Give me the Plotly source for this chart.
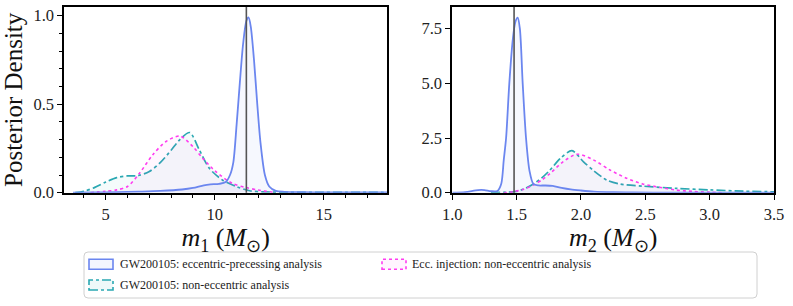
import plotly.graph_objects as go

# ---------------- data ----------------
# m1 panel
m1_ecc_x = [3.5, 4.5, 5.5, 6.5, 7.5, 8.5, 9.0, 9.5, 9.8, 10.2, 10.5, 10.7, 10.85, 11.0, 11.15,
            11.3, 11.45, 11.55, 11.65, 11.8, 11.95, 12.1, 12.3, 12.5, 12.8, 13.2, 14.0, 15.0, 16.0, 17.0, 17.9]
m1_ecc_y = [0.0, 0.001, 0.003, 0.006, 0.01, 0.018, 0.027, 0.042, 0.047, 0.05, 0.06, 0.1, 0.17, 0.38, 0.62,
            0.84, 0.97, 0.99, 0.94, 0.75, 0.5, 0.28, 0.1, 0.035, 0.01, 0.005, 0.003, 0.002, 0.002, 0.002, 0.001]

m1_non_x = [3.6, 4.0, 4.5, 5.0, 5.5, 6.0, 6.5, 7.0, 7.5, 8.0, 8.4, 8.85, 9.3, 9.75, 10.35, 11.0, 11.6, 12.2, 13.0, 14.0, 15.0, 16.0, 17.0, 17.9]
m1_non_y = [0.0, 0.008, 0.03, 0.06, 0.085, 0.095, 0.097, 0.12, 0.17, 0.24, 0.30, 0.34, 0.24, 0.138, 0.072, 0.034, 0.011, 0.005, 0.003, 0.002, 0.002, 0.002, 0.002, 0.001]

m1_inj_x = [4.3, 5.0, 5.5, 6.0, 6.55, 7.15, 7.75, 8.4, 9.0, 9.45, 10.05, 10.8, 11.4, 12.0, 12.8]
m1_inj_y = [0.0, 0.008, 0.016, 0.035, 0.11, 0.213, 0.288, 0.32, 0.26, 0.194, 0.119, 0.053, 0.03, 0.015, 0.0]

# m2 panel
m2_ecc_x = [1.0, 1.1, 1.2, 1.25, 1.3, 1.35, 1.38, 1.4, 1.418, 1.443, 1.47, 1.49, 1.508, 1.525, 1.547,
            1.573, 1.6, 1.63, 1.67, 1.72, 1.78, 1.85, 1.92, 2.0, 2.1, 2.25, 2.4, 2.7, 3.0, 3.5]
m2_ecc_y = [0.0, 0.03, 0.12, 0.12, 0.07, 0.08, 0.4, 1.5, 2.5, 5.0, 7.0, 7.8, 8.0, 7.5, 5.0,
            2.5, 1.0, 0.4, 0.33, 0.33, 0.31, 0.22, 0.15, 0.1, 0.05, 0.02, 0.01, 0.005, 0.002, 0.0]

m2_non_x = [1.3, 1.4, 1.49, 1.56, 1.63, 1.7, 1.76, 1.84, 1.93, 2.02, 2.1, 2.2, 2.3, 2.48, 2.74, 3.0, 3.26, 3.5]
m2_non_y = [0.0, 0.02, 0.05, 0.18, 0.4, 0.7, 1.04, 1.57, 1.92, 1.41, 1.0, 0.58, 0.4, 0.3, 0.2, 0.13, 0.07, 0.04]

m2_inj_x = [1.4, 1.47, 1.55, 1.63, 1.7, 1.76, 1.86, 1.97, 2.1, 2.225, 2.355, 2.48, 2.61, 2.74, 2.87, 3.0, 3.1]
m2_inj_y = [0.0, 0.04, 0.15, 0.35, 0.6, 0.88, 1.41, 1.76, 1.49, 1.04, 0.66, 0.4, 0.25, 0.12, 0.06, 0.02, 0.0]

injected_m1 = 11.45
injected_m2 = 1.48

names = ["GW200105: eccentric-precessing analysis",
         "GW200105: non-eccentric analysis",
         "Ecc. injection: non-eccentric analysis"]

# ---------------- styles ----------------
C_ECC = "#6b86ef"
C_NON = "#2aa8b2"
C_INJ = "#ff3cf0"
F_ECC = "rgba(107,134,239,0.06)"
F_NON = "rgba(42,168,178,0.05)"
F_INJ = "rgba(255,60,240,0.04)"
FONT = "Liberation Serif"

W, H = 793, 306
L1, R1 = 64.3, 387.0
L2, R2 = 452.3, 774.0
T, B = 7.0, 192.7

def px(x):
    return x / W

def py(y):
    return 1 - y / H

fig = go.Figure()

def add(xs, ys, color, fill, dash, width, axis):
    xa, ya = ("x", "y") if axis == 1 else ("x2", "y2")
    fig.add_trace(go.Scatter(
        x=xs, y=ys, mode="lines", xaxis=xa, yaxis=ya,
        line=dict(color=color, dash=dash, width=width, shape="spline", smoothing=0.8),
        fill="tozeroy", fillcolor=fill, showlegend=False, hoverinfo="skip"))

add(m1_non_x, m1_non_y, C_NON, F_NON, "dashdot", 1.7, 1)
add(m1_inj_x, m1_inj_y, C_INJ, F_INJ, "dot", 1.6, 1)
add(m1_ecc_x, m1_ecc_y, C_ECC, F_ECC, "solid", 1.8, 1)
add(m2_non_x, m2_non_y, C_NON, F_NON, "dashdot", 1.7, 2)
add(m2_inj_x, m2_inj_y, C_INJ, F_INJ, "dot", 1.6, 2)
add(m2_ecc_x, m2_ecc_y, C_ECC, F_ECC, "solid", 1.8, 2)

# injected values
fig.add_shape(type="line", xref="x", yref="y domain", x0=injected_m1, x1=injected_m1, y0=0, y1=1,
              line=dict(color="#555555", width=1.6))
fig.add_shape(type="line", xref="x2", yref="y2 domain", x0=injected_m2, x1=injected_m2, y0=0, y1=1,
              line=dict(color="#555555", width=1.6))

axis_common = dict(showline=True, linecolor="black", linewidth=2, mirror=True, showgrid=False,
                   zeroline=False, ticks="outside", ticklen=5, tickwidth=1, tickcolor="black",
                   automargin=False,
                   tickfont=dict(family=FONT, size=16.5, color="#222"))

fig.update_layout(
    width=W, height=H, margin=dict(l=0, r=0, t=0, b=0),
    paper_bgcolor="white", plot_bgcolor="white",
    xaxis=dict(domain=[px(L1), px(R1)], range=[3.1, 17.9], tickvals=[5, 10, 15],
               minor=dict(dtick=1, ticklen=3, ticks="outside", tickcolor="black"),
               title=dict(text="<i>m</i><sub>1</sub> (<i>M</i><sub>⊙</sub>)", standoff=2,
                          font=dict(family=FONT, size=26, color="#111")),
               anchor="y", **axis_common),
    yaxis=dict(domain=[py(B), py(T)], range=[0, 1.049], tickvals=[0, 0.5, 1.0], tickformat=".1f",
               minor=dict(dtick=0.1, ticklen=3, ticks="outside", tickcolor="black"),
               title=dict(text="Posterior Density", standoff=8,
                          font=dict(family=FONT, size=25, color="#111")),
               anchor="x", **axis_common),
    xaxis2=dict(domain=[px(L2), px(R2)], range=[1.0, 3.5], tickvals=[1.0, 1.5, 2.0, 2.5, 3.0, 3.5],
                tickformat=".1f",
                title=dict(text="<i>m</i><sub>2</sub> (<i>M</i><sub>⊙</sub>)", standoff=2,
                           font=dict(family=FONT, size=26, color="#111")),
                anchor="y2", **axis_common),
    yaxis2=dict(domain=[py(B), py(T)], range=[0, 8.49], tickvals=[0, 2.5, 5.0, 7.5], tickformat=".1f",
                anchor="x2", **axis_common),
)

# ---------------- legend (drawn manually, matplotlib style) ----------------
x0, x1, y0, y1, r = 84, 757, 252, 298, 4
path = (f"M{px(x0 + r)},{py(y0)} L{px(x1 - r)},{py(y0)} Q{px(x1)},{py(y0)} {px(x1)},{py(y0 + r)} "
        f"L{px(x1)},{py(y1 - r)} Q{px(x1)},{py(y1)} {px(x1 - r)},{py(y1)} "
        f"L{px(x0 + r)},{py(y1)} Q{px(x0)},{py(y1)} {px(x0)},{py(y1 - r)} "
        f"L{px(x0)},{py(y0 + r)} Q{px(x0)},{py(y0)} {px(x0 + r)},{py(y0)} Z")
fig.add_shape(type="path", xref="paper", yref="paper", path=path,
              line=dict(color="#d0d0d0", width=1), fillcolor="white", layer="above")

entries = [
    (names[0], C_ECC, "rgba(107,134,239,0.08)", "solid", 89, 118, 264.3),
    (names[1], C_NON, "rgba(42,168,178,0.08)", "dashdot", 89, 118, 285.0),
    (names[2], C_INJ, "rgba(255,60,240,0.06)", "dot", 382, 410, 264.3),
]
for text, col, fcol, dash, sx, tx, cy in entries:
    fig.add_shape(type="rect", xref="paper", yref="paper",
                  x0=px(sx), x1=px(sx + 24), y0=py(cy + 5), y1=py(cy - 5),
                  line=dict(color=col, width=1.6, dash=dash), fillcolor=fcol, layer="above")
    fig.add_annotation(xref="paper", yref="paper", x=px(tx), y=py(cy), text=text, showarrow=False,
                       xanchor="left", yanchor="middle",
                       font=dict(family=FONT, size=12, color="#222"))

fig.write_html("out.html",
               config={"displayModeBar": False, "staticPlot": True},
               post_script="document.body.style.margin='0';document.body.style.overflow='hidden';")
